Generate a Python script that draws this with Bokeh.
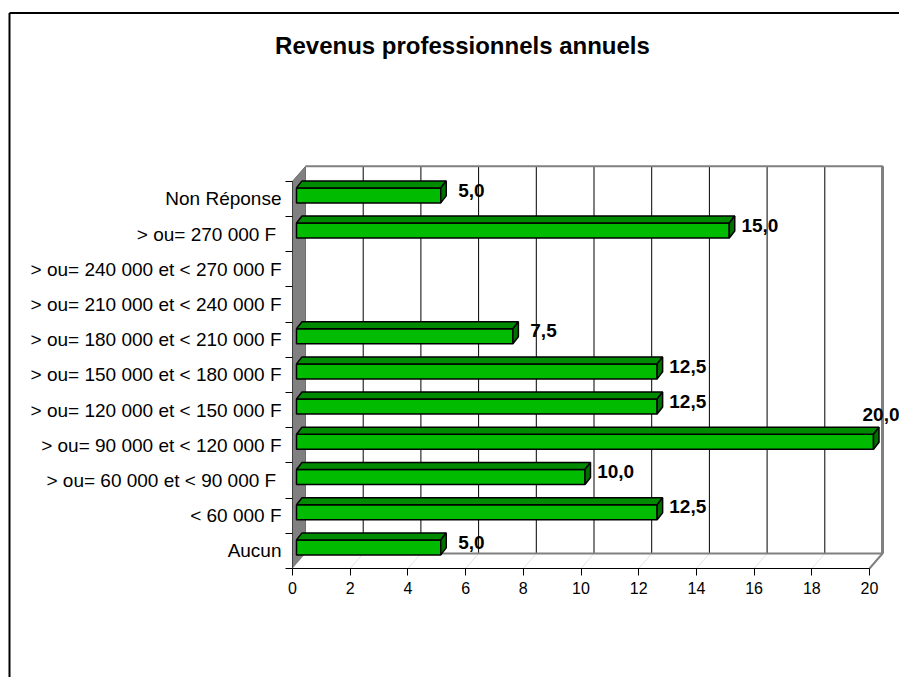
import numpy as np
from bokeh.plotting import figure
from bokeh.models import Range1d, LinearAxis, FixedTicker, Label, ColumnDataSource
from bokeh.core.properties import value
from bokeh.embed import file_html
from bokeh.resources import INLINE

# ---------------- data ----------------
categories = [
    "Aucun",
    "< 60 000 F",
    "> ou=  60 000 et < 90 000 F",
    "> ou= 90 000 et < 120 000 F",
    "> ou= 120 000 et < 150 000 F",
    "> ou= 150 000 et < 180 000 F",
    "> ou= 180 000 et < 210 000 F",
    "> ou= 210 000 et < 240 000 F",
    "> ou= 240 000 et < 270 000 F",
    "> ou=  270 000 F",
    "Non Réponse",
]
values = [5.0, 12.5, 10.0, 20.0, 12.5, 12.5, 7.5, 0.0, 0.0, 15.0, 5.0]
x_ticks = [0, 2, 4, 6, 8, 10, 12, 14, 16, 18, 20]
title_text = "Revenus professionnels annuels"

# ---------------- geometry (pixels -> data units) ----------------
W, H = 899, 677
SX, SY = 28.85, 35.2            # px per value unit / per category
X0_PX, Y0_PX = 292, 568         # canvas position of (0, -0.5)
XMAX = max(x_ticks)
n = len(categories)
DX, DY = 13 / SX, 15 / SY       # wall depth
BOFF = 4 / SX                   # bar front offset
FC, FH = 0.1, 7.5 / SY          # bar face centre offset / half height
BDX, BDY = 5.5 / SX, 7 / SY     # bar depth

def px_x(px):
    return (px - X0_PX) / SX

def px_y(py):
    return -0.5 + (Y0_PX - py) / SY

x_start, x_end = px_x(0), px_x(W)
y_end, y_start = px_y(0), px_y(H)
lo, hi = -0.5, n - 0.5

p = figure(width=W, height=H, output_backend="svg", toolbar_location=None,
           x_range=Range1d(x_start, x_end), y_range=Range1d(y_start, y_end),
           x_axis_location=None, y_axis_location=None, min_border=0)
p.outline_line_color = None
p.background_fill_color = "white"
p.border_fill_color = "white"
p.xgrid.visible = False
p.ygrid.visible = False

# outer chart box (left and top edges)
top_line_y = px_y(12.5)
left_line_x = px_x(9)
p.segment(x0=[left_line_x], y0=[top_line_y], x1=[x_end], y1=[top_line_y],
          line_color="black", line_width=2)
p.segment(x0=[left_line_x], y0=[top_line_y], x1=[left_line_x], y1=[y_start],
          line_color="black", line_width=2)

# left wall
p.patch([0, DX, DX, 0], [lo, lo + DY, hi + DY, hi],
        fill_color="#808080", line_color="#707070", line_width=1)
# floor
p.patch([0, XMAX, XMAX + DX, DX], [lo, lo, lo + DY, lo + DY],
        fill_color="white", line_color=None)
t = np.array(x_ticks, dtype=float)
p.segment(x0=t[1:-1], y0=lo, x1=t[1:-1] + DX, y1=lo + DY,
          line_color="#e4e4e4", line_width=1)
# back wall gridlines
p.segment(x0=t[1:-1] + DX, y0=lo + DY, x1=t[1:-1] + DX, y1=hi + DY,
          line_color="black", line_width=1)
# back wall border
p.line([DX, XMAX + DX, XMAX + DX, DX], [lo + DY, lo + DY, hi + DY, hi + DY],
       line_color="#808080", line_width=2)
p.line([XMAX + DX, XMAX + DX], [lo + DY, hi + DY], line_color="#808080", line_width=3)
p.line([XMAX, XMAX + DX], [lo, lo + DY], line_color="#808080", line_width=2)

# bars
v = np.array(values)
idx = np.arange(n)
m = v > 0
vv, ii = v[m], idx[m]
bot = ii + FC - FH
top = ii + FC + FH
p.quad(left=BOFF, right=vv + BOFF, bottom=bot, top=top,
       fill_color="#00BB00", line_color="black", line_width=1.5)
top_xs = [[BOFF, a + BOFF, a + BOFF + BDX, BOFF + BDX] for a in vv]
top_ys = [[b, b, b + BDY, b + BDY] for b in top]
p.patches(top_xs, top_ys, fill_color="#008A00", line_color="black", line_width=1.5)
side_xs = [[a + BOFF, a + BOFF + BDX, a + BOFF + BDX, a + BOFF] for a in vv]
side_ys = [[b0, b0 + BDY, b1 + BDY, b1] for b0, b1 in zip(bot, top)]
p.patches(side_xs, side_ys, fill_color="#007000", line_color="black", line_width=1.5)

# value labels
lab_x = vv + 1.2
clamped = lab_x > XMAX + 0.4
lab_x = np.minimum(lab_x, XMAX + 0.4)
lab_y = ii + np.where(clamped, 0.87, 0.25)
lab_t = [f"{a:.1f}".replace(".", ",") for a in vv]
src = ColumnDataSource(dict(x=lab_x, y=lab_y, t=lab_t))
p.text(x="x", y="y", text="t", source=src, text_font=value("Liberation Sans"),
       text_font_style="bold", text_font_size=value("19px"),
       text_align="center", text_baseline="middle", text_color="black")

# axes
xaxis = LinearAxis(fixed_location=lo, ticker=FixedTicker(ticks=x_ticks), bounds=(0, XMAX))
xaxis.axis_line_color = "black"
xaxis.major_tick_out = 7
xaxis.major_tick_in = 0
xaxis.minor_tick_out = 0
xaxis.major_tick_line_color = "black"
xaxis.major_label_standoff = 6
xaxis.major_label_text_font = "Liberation Sans"
xaxis.major_label_text_font_size = "16px"
xaxis.major_label_text_color = "black"
p.add_layout(xaxis, "below")

yaxis = LinearAxis(fixed_location=0,
                   ticker=FixedTicker(ticks=list(range(n)),
                                      minor_ticks=[k - 0.5 for k in range(n + 1)]),
                   bounds=(lo, hi))
yaxis.major_label_overrides = {k: c for k, c in enumerate(categories)}
yaxis.axis_line_color = "#404040"
yaxis.major_tick_out = 0
yaxis.major_tick_in = 0
yaxis.minor_tick_out = 7
yaxis.minor_tick_in = 0
yaxis.minor_tick_line_color = "black"
yaxis.major_label_standoff = 4
yaxis.major_label_text_font = "Liberation Sans"
yaxis.major_label_text_font_size = "19px"
yaxis.major_label_text_color = "black"
p.add_layout(yaxis, "left")

# title
p.add_layout(Label(x=px_x(462), y=px_y(45), text=title_text, text_font="Liberation Sans",
                   text_font_style="bold", text_font_size="24px",
                   text_align="center", text_baseline="middle", text_color="black"))

open("out.html", "w").write(file_html(p, INLINE))
